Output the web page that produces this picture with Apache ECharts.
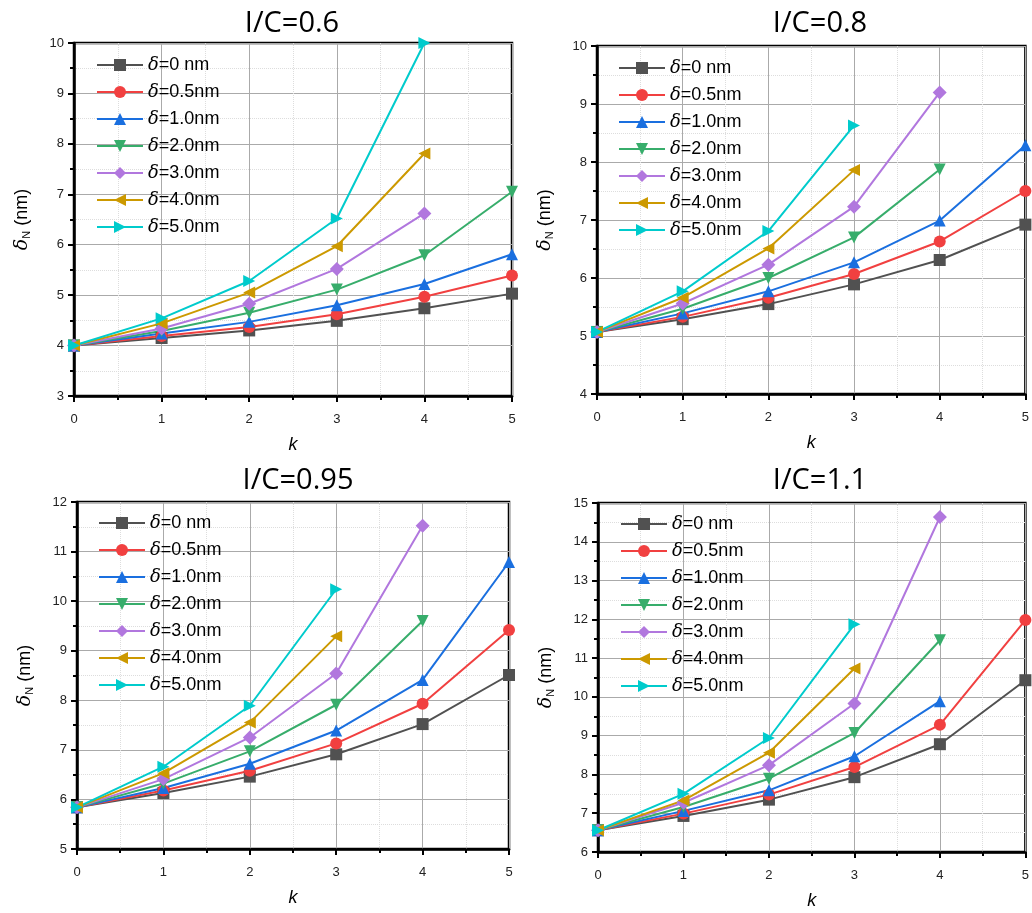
<!DOCTYPE html>
<html>
<head>
<meta charset="utf-8">
<script src="https://cdn.jsdelivr.net/npm/echarts@6/dist/echarts.min.js"></script>
<style>
  html, body { margin: 0; padding: 0; background: #fff; overflow: hidden; }
  #main { width: 1032px; height: 913px; }
</style>
</head>
<body>
<div id="main"></div>
<script>
// x values (k) shared by every panel
const kValues = [0, 1, 2, 3, 4, 5];
const seriesNames = ['δ=0 nm', 'δ=0.5nm', 'δ=1.0nm', 'δ=2.0nm', 'δ=3.0nm', 'δ=4.0nm', 'δ=5.0nm'];
const panelTitles = ['I/C=0.6', 'I/C=0.8', 'I/C=0.95', 'I/C=1.1'];
const yRanges = [[3, 10], [4, 10], [5, 12], [6, 15]];

// δN values per panel, one row per δ (rows may be shorter than kValues)
const ic06 = [
    [4.0, 4.15, 4.30, 4.49, 4.74, 5.03],
    [4.0, 4.19, 4.37, 4.62, 4.97, 5.39],
    [4.0, 4.24, 4.47, 4.80, 5.22, 5.81],
    [4.0, 4.29, 4.65, 5.11, 5.79, 7.05],
    [4.0, 4.34, 4.83, 5.52, 6.62],
    [4.0, 4.44, 5.05, 5.97, 7.81],
    [4.0, 4.54, 5.28, 6.52, 10.0]
];
const ic08 = [
    [5.07, 5.29, 5.55, 5.89, 6.31, 6.92],
    [5.07, 5.33, 5.66, 6.07, 6.63, 7.50],
    [5.07, 5.39, 5.77, 6.27, 6.99, 8.29],
    [5.07, 5.47, 6.00, 6.70, 7.87],
    [5.07, 5.56, 6.23, 7.23, 9.20],
    [5.07, 5.66, 6.51, 7.86],
    [5.07, 5.77, 6.81, 8.63]
];
const ic095 = [
    [5.84, 6.13, 6.46, 6.91, 7.52, 8.51],
    [5.84, 6.18, 6.58, 7.13, 7.93, 9.42],
    [5.84, 6.23, 6.72, 7.39, 8.41, 10.79],
    [5.84, 6.32, 6.97, 7.91, 9.60],
    [5.84, 6.41, 7.25, 8.54, 11.52],
    [5.84, 6.53, 7.55, 9.29],
    [5.84, 6.66, 7.89, 10.24]
];
const ic11 = [
    [6.56, 6.93, 7.35, 7.93, 8.78, 10.43],
    [6.56, 6.99, 7.48, 8.19, 9.28, 11.98],
    [6.56, 7.06, 7.59, 8.47, 9.89],
    [6.56, 7.16, 7.89, 9.07, 11.46],
    [6.56, 7.27, 8.24, 9.83, 14.64],
    [6.56, 7.33, 8.56, 10.73],
    [6.56, 7.50, 8.94, 11.87]
];
const panelData = [ic06, ic08, ic095, ic11];

// Origin "Bright" palette
const colors = ['#515151', '#F14040', '#1A6FDF', '#37AD6B', '#B177DE', '#CC9900', '#00CBCC'];
const symbols = ['rect', 'circle', 'triangle', 'triangle', 'diamond', 'triangle', 'triangle'];
const symbolRot = [0, 0, 0, 180, 0, 90, -90];

// panel geometry (px)
const grids = [
    { left: 74, top: 43, width: 438, height: 353 },
    { left: 597, top: 46, width: 431, height: 348 },
    { left: 77, top: 502, width: 432, height: 347 },
    { left: 598, top: 503, width: 433, height: 349 }
];
const titlePos = [[287, 4], [815, 4], [293, 461], [815, 461]];
const legendPos = [[96, 56], [618, 59], [98, 514], [620, 515]];

const option = {
    backgroundColor: '#fff',
    animation: false,
    title: [],
    legend: [],
    grid: [],
    xAxis: [],
    yAxis: [],
    series: []
};

grids.forEach(function (g, i) {
    option.grid.push({
        left: g.left, top: g.top, width: g.width, height: g.height,
        show: true, borderColor: '#000', borderWidth: 2.5
    });
    option.title.push({
        text: panelTitles[i],
        left: titlePos[i][0], top: titlePos[i][1],
        textAlign: 'center',
        textStyle: { fontFamily: 'Open Sans', fontWeight: 'normal', fontSize: 29, color: '#000' }
    });
    option.legend.push({
        data: seriesNames,
        orient: 'vertical',
        left: legendPos[i][0], top: legendPos[i][1],
        itemWidth: 46, itemHeight: 15, itemGap: 9,
        padding: 0,
        formatter: function (name) {
            return '{d|δ}' + name.slice(1);
        },
        textStyle: {
            fontFamily: 'Liberation Sans', fontSize: 18, color: '#000', lineHeight: 15,
            rich: { d: { fontFamily: 'DejaVu Serif', fontStyle: 'italic', fontSize: 18, lineHeight: 15 } }
        }
    });
    option.xAxis.push({
        type: 'value', gridIndex: i,
        min: 0, max: 5, interval: 1,
        name: 'k', nameLocation: 'middle', nameGap: 40,
        nameTextStyle: { fontFamily: 'Liberation Sans', fontStyle: 'italic', fontSize: 18, color: '#000' },
        axisLine: { onZero: false, lineStyle: { color: '#000', width: 2.5 } },
        axisTick: { length: 6, lineStyle: { color: '#000', width: 2 } },
        minorTick: { show: true, splitNumber: 2, length: 4, lineStyle: { color: '#000', width: 2 } },
        axisLabel: { margin: 17, fontFamily: 'Liberation Sans', fontSize: 13, color: '#222' },
        splitLine: { show: true, lineStyle: { color: '#aaa', width: 1 } },
        minorSplitLine: { show: true, lineStyle: { color: '#ddd', width: 1, type: 'dotted' } }
    });
    option.yAxis.push({
        type: 'value', gridIndex: i,
        min: yRanges[i][0], max: yRanges[i][1], interval: 1,
        name: '{d|δ}{s|N} (nm)', nameLocation: 'middle', nameGap: 42, nameRotate: 90,
        nameTextStyle: {
            fontFamily: 'Liberation Sans', fontSize: 18, color: '#000',
            rich: {
                d: { fontFamily: 'DejaVu Serif', fontStyle: 'italic', fontSize: 19 },
                s: { fontSize: 11, padding: [9, 0, 0, 0] }
            }
        },
        axisLine: { onZero: false, lineStyle: { color: '#000', width: 2.5 } },
        axisTick: { length: 6, lineStyle: { color: '#000', width: 2 } },
        minorTick: { show: true, splitNumber: 2, length: 4, lineStyle: { color: '#000', width: 2 } },
        axisLabel: { margin: 10, fontFamily: 'Liberation Sans', fontSize: 13, color: '#222' },
        splitLine: { show: true, lineStyle: { color: '#aaa', width: 1 } },
        minorSplitLine: { show: true, lineStyle: { color: '#ddd', width: 1, type: 'dotted' } }
    });
    panelData[i].forEach(function (row, s) {
        option.series.push({
            name: seriesNames[s],
            type: 'line',
            xAxisIndex: i, yAxisIndex: i,
            data: row.map(function (v, j) { return [kValues[j], v]; }),
            symbol: symbols[s],
            symbolRotate: symbolRot[s],
            symbolSize: s === 4 ? 14 : 12,
            color: colors[s],
            lineStyle: { width: 2 },
            clip: false
        });
    });
});

const chart = echarts.init(document.getElementById('main'), null, { renderer: 'canvas' });
chart.setOption(option);
</script>
</body>
</html>
